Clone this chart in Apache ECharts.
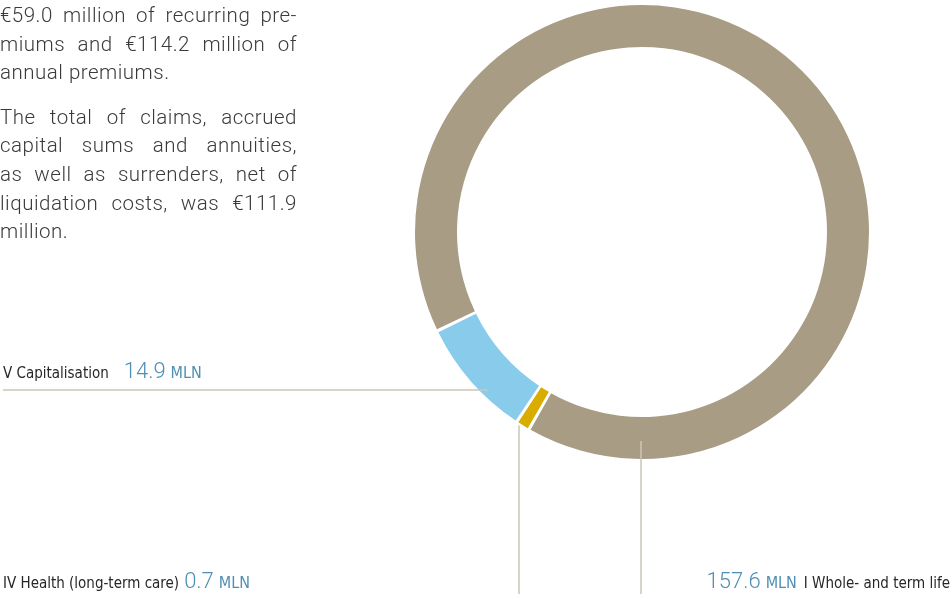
<!DOCTYPE html>
<html>
<head>
<meta charset="utf-8">
<script src="https://cdn.jsdelivr.net/npm/echarts@6/dist/echarts.min.js"></script>
<style>
  html, body { margin: 0; padding: 0; background: #fff; }
  #wrap { position: relative; width: 952px; height: 594px; overflow: hidden; }
  #chart { position: absolute; left: 0; top: 0; width: 952px; height: 594px; }
  .txt {
    position: absolute; left: 0; top: 1px; width: 297px;
    font-family: Roboto, 'Liberation Sans', sans-serif; font-weight: 300;
    font-size: 20.5px; letter-spacing: 0.5px; line-height: 28.6px; color: #3a3a3a;
  }
  .txt p { margin: 0 0 16px 0; }
  .txt span { display: block; text-align: justify; text-align-last: justify; }
  .txt span.last { text-align-last: left; }
</style>
</head>
<body>
<div id="wrap">
  <div id="chart"></div>
  <div class="txt">
    <p>
      <span>€59.0 million of recurring pre-</span>
      <span>miums and €114.2 million of</span>
      <span class="last">annual premiums.</span>
    </p>
    <p>
      <span>The total of claims, accrued</span>
      <span>capital sums and annuities,</span>
      <span>as well as surrenders, net of</span>
      <span>liquidation costs, was €111.9</span>
      <span class="last">million.</span>
    </p>
  </div>
</div>
<script>
// premiums by line of business, € million
const classes = ['I Whole- and term life', 'IV Health (long-term care)', 'V Capitalisation']
const premiums = [157.6, 0.7, 14.9]
const colors = ['#a89c84', '#d9ad00', '#88cbeb']

const cx = 642
const cy = 232
const rIn = 185
const rOut = 227
const lineColor = '#cdc6b8'
const narrow = "'Liberation Sans Narrow', 'DejaVu Sans Condensed', Roboto, sans-serif"

const chart = echarts.init(document.getElementById('chart'))

function labelText(p) {
  const v = p.value.toFixed(1)
  if (p.dataIndex === 0) return `{val|${v}}{g5|}{unit|MLN}{g7|}{name|${p.name}}`
  if (p.dataIndex === 2) return `{name|${p.name}}{g16|}{val|${v}}{g5|}{unit|MLN}`
  return `{name|${p.name}}{g5|}{val|${v}}{g5|}{unit|MLN}`
}

// where each label and its leader line go
function placeLabel(params) {
  const i = params.dataIndex
  if (i === 2) {
    const y = 390
    const x0 = cx - Math.sqrt(221 * 221 - (y - cy) * (y - cy))
    return {
      x: 3, y: 371, align: 'left', verticalAlign: 'middle',
      labelLinePoints: [[x0, y], [200, y], [3, y]]
    }
  }
  if (i === 1) {
    const p0 = params.labelLinePoints ? params.labelLinePoints[0] : [522, 423]
    const x = p0[0] - 4
    return {
      x: 3, y: 581, align: 'left', verticalAlign: 'middle',
      labelLinePoints: [[x, p0[1]], [x, 520], [x, 600]]
    }
  }
  return {
    x: 950, y: 581, align: 'right', verticalAlign: 'middle',
    labelLinePoints: [[cx - 1, cy + 209], [cx - 1, 520], [cx - 1, 600]]
  }
}

const base = {
  type: 'pie',
  center: [cx, cy],
  radius: [rIn, rOut],
  startAngle: 205.8,
  clockwise: true,
  padAngle: 0.8,
  minAngle: 2.8,
  avoidLabelOverlap: false,
  emphasis: { disabled: true }
}

chart.setOption({
  animation: false,
  series: [
    // the ring
    Object.assign({}, base, {
      z: 2,
      data: classes.map((name, i) => ({
        name,
        value: premiums[i],
        itemStyle: { color: colors[i] }
      })),
      label: { show: false },
      labelLine: { show: false }
    }),
    // labels and leader lines, drawn over the ring
    Object.assign({}, base, {
      z: 3,
      data: classes.map((name, i) => ({
        name,
        value: premiums[i],
        itemStyle: { color: 'rgba(0,0,0,0)' }
      })),
      label: {
        show: true,
        position: 'outside',
        formatter: labelText,
        rich: {
          name: { fontFamily: narrow, fontSize: 15, color: '#262626', verticalAlign: 'bottom', lineHeight: 24, padding: [0, 0, 1, 0] },
          g5: { width: 5 },
          g7: { width: 7 },
          g16: { width: 15 },
          val: { fontFamily: 'Roboto', fontWeight: 300, fontSize: 22, color: '#4f8fb3', verticalAlign: 'bottom', lineHeight: 24 },
          unit: { fontFamily: narrow, fontSize: 16, color: '#4f8fb3', verticalAlign: 'bottom', lineHeight: 24, padding: [0, 0, 1, 0] }
        }
      },
      labelLine: {
        show: true,
        lineStyle: { color: lineColor, width: 1.5 }
      },
      labelLayout: placeLabel
    })
  ]
})
</script>
</body>
</html>
